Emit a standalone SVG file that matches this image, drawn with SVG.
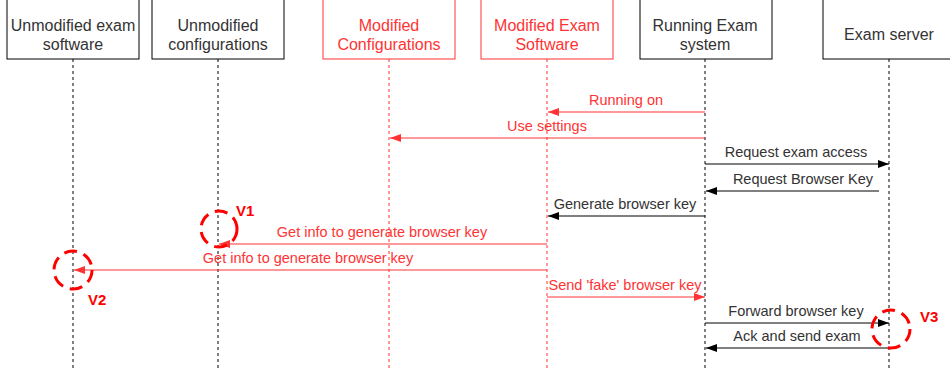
<svg xmlns="http://www.w3.org/2000/svg" width="950" height="370" viewBox="0 0 950 370">
  <style>
    .box { fill: #ffffff; stroke: #000000; stroke-width: 1; }
    .box.red { stroke: #ff3333; }
    .head { font-family: "Liberation Sans", Arial, sans-serif; font-size: 16px; fill: #333333; text-anchor: middle; }
    .head.red { fill: #ff3333; }
    .life { stroke: #000000; stroke-width: 1; stroke-dasharray: 3 3; fill: none; }
    .life.red { stroke: #ff3333; }
    .msg { stroke: #000000; stroke-width: 1; fill: none; marker-end: url(#ah-black); }
    .msg.red { stroke: #ff3333; marker-end: url(#ah-red); }
    .lbl { font-family: "Liberation Sans", Arial, sans-serif; font-size: 14.5px; fill: #333333; text-anchor: middle; }
    .lbl.red { fill: #ff3333; }
    .ring { fill: none; stroke: #ff0000; stroke-width: 3; stroke-dasharray: 13 7; }
    .vtag { font-family: "Liberation Sans", Arial, sans-serif; font-size: 15px; font-weight: bold; fill: #ff0000; }
  </style>
  <defs>
    <marker id="ah-black" markerWidth="12" markerHeight="10" refX="11" refY="4" orient="auto" markerUnits="userSpaceOnUse">
      <path d="M0,0 L11,4 L0,8 z" fill="#000000"/>
    </marker>
    <marker id="ah-red" markerWidth="12" markerHeight="10" refX="11" refY="4" orient="auto" markerUnits="userSpaceOnUse">
      <path d="M0,0 L11,4 L0,8 z" fill="#ff3333"/>
    </marker>
  </defs>
  <rect width="950" height="370" fill="#ffffff"/>

  <!-- lifeline participants -->
  <g id="unmodified-software">
    <rect class="box" x="7" y="-10" width="132" height="69"/>
    <line class="life" x1="73" y1="59" x2="73" y2="370"/>
    <text class="head" x="73" y="31">Unmodified exam</text>
    <text class="head" x="73" y="50">software</text>
  </g>
  <g id="unmodified-config">
    <rect class="box" x="152" y="-10" width="132" height="69"/>
    <line class="life" x1="218" y1="59" x2="218" y2="370"/>
    <text class="head" x="218" y="31">Unmodified</text>
    <text class="head" x="218" y="50">configurations</text>
  </g>
  <g id="modified-config">
    <rect class="box red" x="323" y="-10" width="132" height="69"/>
    <line class="life red" x1="389" y1="59" x2="389" y2="370"/>
    <text class="head red" x="389" y="31">Modified</text>
    <text class="head red" x="389" y="50">Configurations</text>
  </g>
  <g id="modified-software">
    <rect class="box red" x="481" y="-10" width="132" height="69"/>
    <line class="life red" x1="547" y1="59" x2="547" y2="370"/>
    <text class="head red" x="547" y="31">Modified Exam</text>
    <text class="head red" x="547" y="50">Software</text>
  </g>
  <g id="running-system">
    <rect class="box" x="640" y="-10" width="132" height="69"/>
    <line class="life" x1="705" y1="59" x2="705" y2="370"/>
    <text class="head" x="705" y="31">Running Exam</text>
    <text class="head" x="705" y="50">system</text>
  </g>
  <g id="exam-server">
    <rect class="box" x="823" y="-10" width="140" height="69"/>
    <line class="life" x1="889" y1="59" x2="889" y2="370"/>
    <text class="head" x="889" y="40">Exam server</text>
  </g>

  <!-- messages -->
  <g id="connectors">
    <line class="msg red" x1="705" y1="112" x2="548" y2="112"/>
    <text class="lbl red" x="626" y="105">Running on</text>

    <line class="msg red" x1="705" y1="138" x2="390" y2="138"/>
    <text class="lbl red" x="547" y="131">Use settings</text>

    <line class="msg" x1="705" y1="164" x2="889" y2="164"/>
    <text class="lbl" x="796" y="157">Request exam access</text>

    <line class="msg" x1="879" y1="191" x2="706" y2="191"/>
    <text class="lbl" x="803" y="184">Request Browser Key</text>

    <line class="msg" x1="705" y1="216" x2="548" y2="216"/>
    <text class="lbl" x="625" y="209">Generate browser key</text>

    <line class="msg red" x1="547" y1="244" x2="219" y2="244"/>
    <text class="lbl red" x="382" y="237">Get info to generate browser key</text>

    <line class="msg red" x1="547" y1="270" x2="74" y2="270"/>
    <text class="lbl red" x="308" y="263">Get info to generate browser key</text>

    <line class="msg red" x1="547" y1="297" x2="705" y2="297"/>
    <text class="lbl red" x="625" y="290">Send 'fake' browser key</text>

    <line class="msg" x1="705" y1="323" x2="889" y2="323"/>
    <text class="lbl" x="796" y="316">Forward browser key</text>

    <line class="msg" x1="889" y1="348" x2="706" y2="348"/>
    <text class="lbl" x="797" y="341">Ack and send exam</text>
  </g>

  <!-- vulnerability markers -->
  <g id="v1">
    <circle class="ring" cx="219" cy="229" r="18"/>
    <text class="vtag" x="236" y="216">V1</text>
  </g>
  <g id="v2">
    <circle class="ring" cx="73" cy="270" r="19"/>
    <text class="vtag" x="88" y="305">V2</text>
  </g>
  <g id="v3">
    <circle class="ring" cx="891" cy="329" r="19"/>
    <text class="vtag" x="920" y="322">V3</text>
  </g>
</svg>
